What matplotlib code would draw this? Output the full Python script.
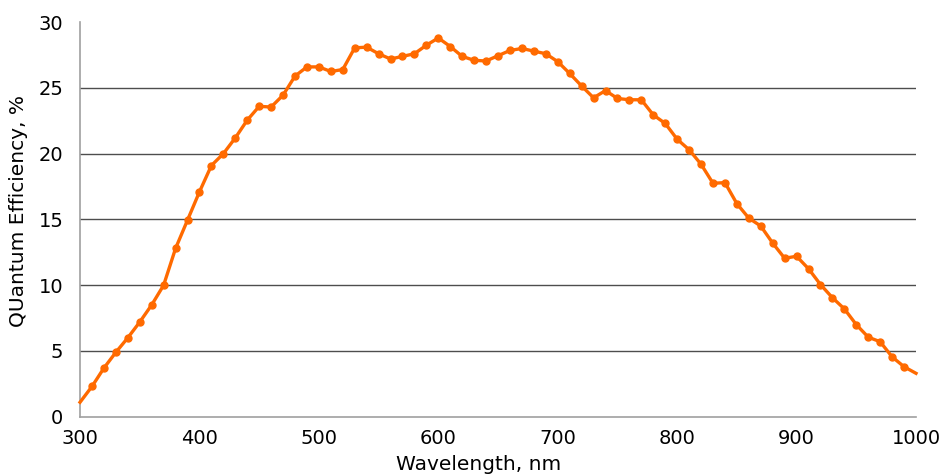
import numpy as np
import matplotlib
matplotlib.use("Agg")
import matplotlib.pyplot as plt

# wavelength (nm) and quantum efficiency (%)
wavelength = [300, 310, 320, 330, 340, 350, 360, 370, 380, 390,
              400, 410, 420, 430, 440, 450, 460, 470, 480, 490,
              500, 510, 520, 530, 540, 550, 560, 570, 580, 590,
              600, 610, 620, 630, 640, 650, 660, 670, 680, 690,
              700, 710, 720, 730, 740, 750, 760, 770, 780, 790,
              800, 810, 820, 830, 840, 850, 860, 870, 880, 890,
              900, 910, 920, 930, 940, 950, 960, 970, 980, 990,
              1000]
qe = [1.1, 2.3, 3.7, 4.9, 6.0, 7.2, 8.5, 10.0, 12.8, 14.95,
      17.1, 19.1, 20.0, 21.2, 22.55, 23.6, 23.55, 24.45, 25.9, 26.6,
      26.6, 26.25, 26.4, 28.05, 28.1, 27.6, 27.2, 27.4, 27.6, 28.25,
      28.8, 28.15, 27.4, 27.1, 27.05, 27.45, 27.85, 28.0, 27.8, 27.6,
      27.0, 26.1, 25.15, 24.25, 24.8, 24.2, 24.1, 24.1, 22.95, 22.3,
      21.1, 20.3, 19.2, 17.75, 17.8, 16.2, 15.1, 14.5, 13.2, 12.05,
      12.2, 11.25, 10.05, 9.05, 8.2, 7.0, 6.05, 5.7, 4.55, 3.8,
      3.3]

x_ticks = [300, 400, 500, 600, 700, 800, 900, 1000]
y_ticks = [0, 5, 10, 15, 20, 25, 30]

orange = "#ff6a00"

fig = plt.figure(figsize=(9.46, 4.75), dpi=100)
ax = fig.add_axes([0.0846, 0.1227, 0.8837, 0.8306])

for v in y_ticks[1:-1]:
    ax.axhline(v, color="#4d4d4d", lw=1.0, zorder=1)

ax.plot(wavelength, qe, color=orange, lw=2.4, zorder=3, clip_on=False)
ax.plot(wavelength[1:-1], qe[1:-1], "o", color=orange, ms=5, zorder=4)

ax.set_xlim(300, 1000)
ax.set_ylim(0, 30)
ax.set_xticks(x_ticks)
ax.set_yticks(y_ticks)
ax.tick_params(axis="both", length=0, labelsize=14, colors="black")
ax.tick_params(axis="y", pad=12)
ax.tick_params(axis="x", pad=9)

for s in ["top", "right"]:
    ax.spines[s].set_visible(False)
ax.spines["left"].set_color("#a0a0a0")
ax.spines["bottom"].set_color("#a0a0a0")
ax.spines["left"].set_linewidth(1.2)
ax.spines["bottom"].set_linewidth(1.2)

# labels sit a little off-centre in the original
ax.set_xlabel("Wavelength, nm", fontsize=14.5)
ax.set_ylabel("QUantum Efficiency, %", fontsize=14.5)
ax.xaxis.set_label_coords(0.4767, -0.097)
ax.yaxis.set_label_coords(-0.062, 0.521)

fig.savefig("out.png", dpi=100)
